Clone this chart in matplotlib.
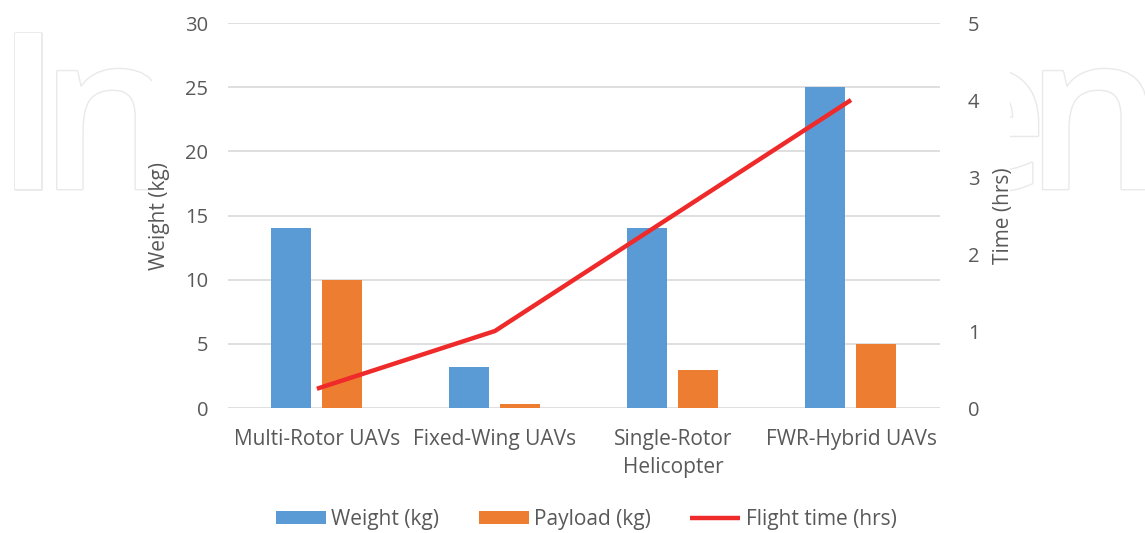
import numpy as np
import matplotlib
matplotlib.use("Agg")
import matplotlib.pyplot as plt
import matplotlib.patheffects as pe
from matplotlib.patches import Rectangle

plt.rcParams['font.family'] = ['Open Sans', 'DejaVu Sans']

categories = ['Multi-Rotor UAVs', 'Fixed-Wing UAVs', 'Single-Rotor\nHelicopter', 'FWR-Hybrid UAVs']
weight = [14, 3.2, 14, 25]
payload = [10, 0.3, 3, 5]
flight_time = [0.25, 1, 2.5, 4]

txt = '#595959'
grid = '#d9d9d9'

fig = plt.figure(figsize=(11.45, 5.33), dpi=100)

# faint outlined watermark, only visible at the sides of the white chart area
wm = dict(fontsize=157, fontweight='semibold', color='white', zorder=-5,
          va='baseline', ha='left',
          path_effects=[pe.Stroke(linewidth=2, foreground='#e9e9e9'), pe.Normal()])
base = 1 - 189 / 533
fig.text(-0.0045, base, 'I', **wm)
fig.text(0.0345, base, 'n', **wm)
fig.text(0.806, base, 'e', **wm)
fig.text(0.8955, base, 'n', **wm)
fig.patches.append(Rectangle((152 / 1145, 0), 858 / 1145, 1, transform=fig.transFigure,
                             facecolor='white', edgecolor='none', zorder=-4))

ax = fig.add_axes([0.199, 0.2345, 0.622, 0.7223])
ax.set_facecolor('none')
x = np.arange(len(categories))
w = 0.225
ax.bar(x - 0.145, weight, w, color='#5B9BD5', label='Weight (kg)', zorder=3)
ax.bar(x + 0.14, payload, w, color='#ED7D31', label='Payload (kg)', zorder=3)
ax.set_xlim(-0.5, 3.5)
ax.set_ylim(0, 30)
ax.set_yticks(range(0, 31, 5))
ax.yaxis.grid(True, color=grid, linewidth=1.2, zorder=0)
ax.set_axisbelow(True)
for s in ax.spines.values():
    s.set_visible(False)
ax.tick_params(axis='both', length=0, colors=txt, labelsize=14.5, pad=14)
ax.set_xticks(x)
ax.set_xticklabels(categories, fontsize=15, color=txt, linespacing=1.45)
ax.tick_params(axis='x', pad=15)
ax.set_ylabel('Weight (kg)', fontsize=15, color=txt, labelpad=11)

ax2 = ax.twinx()
ax2.plot(x, flight_time, color='#EE2A2A', linewidth=3.2, label='Flight time (hrs)',
         solid_capstyle='butt', zorder=4)
ax2.set_ylim(0, 5)
ax2.set_yticks(range(0, 6))
for s in ax2.spines.values():
    s.set_visible(False)
ax2.tick_params(axis='y', length=0, colors=txt, labelsize=14.5, pad=20)
ax2.set_ylabel('Time (hrs)', fontsize=15, color=txt, labelpad=10)

h1, l1 = ax.get_legend_handles_labels()
h2, l2 = ax2.get_legend_handles_labels()
fig.legend(h1 + h2, l1 + l2, loc='center', bbox_to_anchor=(0.512, 0.025), ncol=3,
           frameon=False, fontsize=15, labelcolor=txt, handlelength=2.4,
           handleheight=0.6, handletextpad=0.25, columnspacing=1.9)

fig.savefig('out.png', dpi=100)
